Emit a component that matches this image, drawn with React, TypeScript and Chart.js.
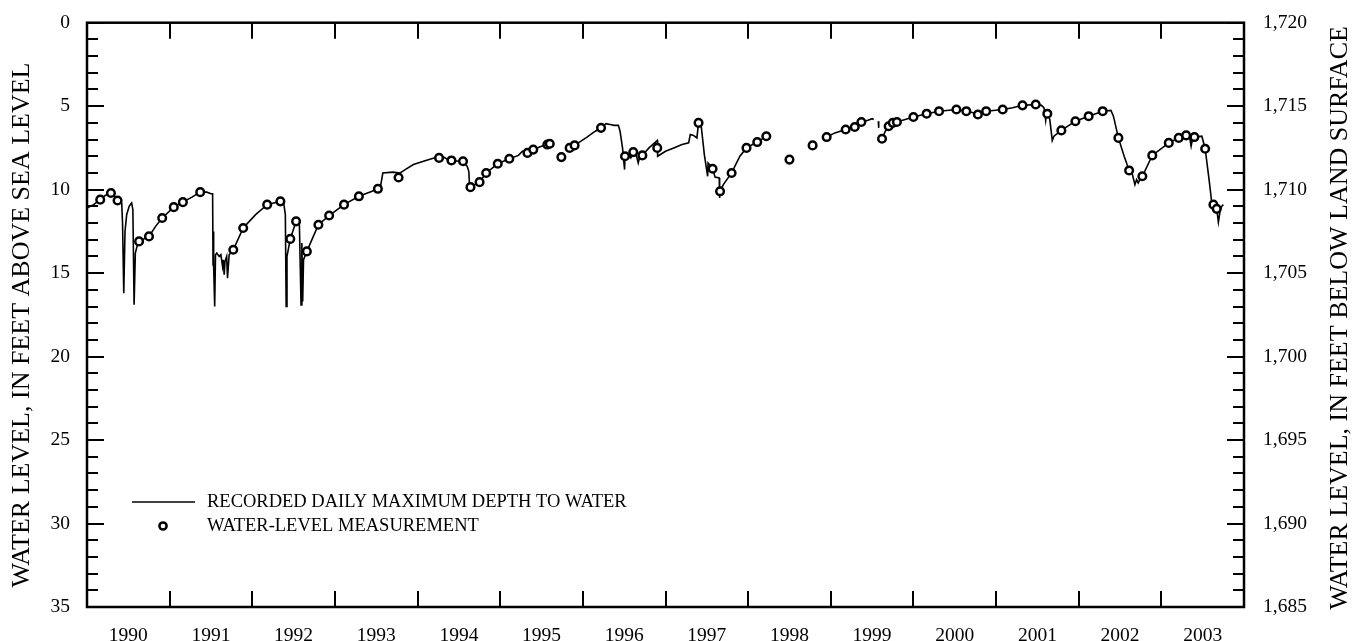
import React, { useEffect, useRef } from "react";
import { Chart, registerables } from "chart.js";

Chart.register(...registerables);

// ---- Data ----
const yearLabels = [1990, 1991, 1992, 1993, 1994, 1995, 1996, 1997, 1998, 1999, 2000, 2001, 2002, 2003];
const leftTickValues = [0, 5, 10, 15, 20, 25, 30, 35];
const rightTickValues = [1685, 1690, 1695, 1700, 1705, 1710, 1715, 1720];

// Recorded daily maximum depth to water (null = gap in record)
const lineYears = [
  1990.0, 1990.08, 1990.16, 1990.22, 1990.29, 1990.33, 1990.37, 1990.42, 1990.43, 1990.445,
  1990.46, 1990.48, 1990.51, 1990.54, 1990.555, 1990.57, 1990.585, 1990.61, 1990.63, 1990.75,
  1990.83, 1990.91, 1991.05, 1991.16, 1991.27, 1991.37, 1991.45, 1991.5, 1991.52, 1991.525,
  1991.53, 1991.535, 1991.545, 1991.555, 1991.57, 1991.6, 1991.62, 1991.64, 1991.65, 1991.66,
  1991.67, 1991.69, 1991.7, 1991.72, 1991.77, 1991.89, 1992.04, 1992.18, 1992.34, 1992.38,
  1992.4, 1992.41, 1992.42, 1992.46, 1992.53, 1992.57, 1992.58, 1992.59, 1992.6, 1992.61,
  1992.62, 1992.66, 1992.8, 1992.93, 1993.11, 1993.29, 1993.45, 1993.55, 1993.58, 1993.7,
  1993.79, 1993.85, 1993.95, 1994.1, 1994.2, 1994.26, 1994.3, 1994.35, 1994.41, 1994.5,
  1994.55, 1994.6, 1994.62, 1994.63, 1994.64, 1994.75, 1994.83, 1994.97, 1995.11, 1995.22,
  1995.27, 1995.33, 1995.4, 1995.5, 1995.57, 1995.61, 1995.7,
  1995.82, 1995.84, 1995.9, 1996.05, 1996.15, 1996.22, 1996.28, 1996.33, 1996.38, 1996.43,
  1996.45, 1996.48, 1996.5, 1996.505, 1996.51, 1996.55, 1996.58, 1996.61, 1996.65, 1996.67,
  1996.69, 1996.72, 1996.8, 1996.9, 1996.905, 1997.0, 1997.1, 1997.2, 1997.28, 1997.3,
  1997.34, 1997.38, 1997.4, 1997.43, 1997.47, 1997.51, 1997.515, 1997.57, 1997.6, 1997.65,
  1997.655, 1997.66, 1997.7, 1997.8, 1997.9, 1997.98, 1998.11, 1998.22, 1998.5,
  1998.95, 1999.05, 1999.18, 1999.29, 1999.37, 1999.45, 1999.5, 1999.52, 1999.55,
  1999.575, 1999.58, 1999.6,
  1999.62, 1999.66, 1999.7, 1999.75, 1999.8, 1999.9, 2000.0, 2000.16, 2000.31, 2000.52,
  2000.64, 2000.78, 2000.88, 2001.08, 2001.2, 2001.32, 2001.48, 2001.55, 2001.58, 2001.6,
  2001.61, 2001.62, 2001.65, 2001.68, 2001.7, 2001.79, 2001.96, 2002.12, 2002.29, 2002.39,
  2002.42, 2002.48, 2002.55, 2002.61, 2002.65, 2002.68, 2002.7, 2002.72, 2002.75, 2002.77,
  2002.89, 2003.09, 2003.21, 2003.3, 2003.34, 2003.36, 2003.38, 2003.4, 2003.49, 2003.53,
  2003.58, 2003.61, 2003.63, 2003.67, 2003.69, 2003.71, 2003.73, 2003.75,
];
const lineDepths = [
  11.1, 10.9, 10.6, 10.35, 10.2, 10.35, 10.65, 10.8, 12.0, 16.2,
  12.5, 11.5, 11.0, 10.8, 11.2, 16.9, 13.8, 13.3, 13.1, 12.8,
  12.2, 11.7, 11.05, 10.75, 10.45, 10.15, 10.15, 10.25, 10.25, 14.5,
  12.5, 14.6, 17.0, 13.9, 13.8, 14.0, 13.9, 14.6, 14.2, 15.1,
  14.3, 14.0, 15.3, 13.9, 13.6, 12.3, 11.5, 10.9, 10.7, 10.8,
  11.5, 17.0, 14.0, 12.95, 11.9, 12.1, 14.5, 16.9, 13.2, 16.7,
  14.2, 13.7, 12.1, 11.55, 10.9, 10.4, 10.1, 9.85, 9.0, 8.95,
  9.0, 8.8, 8.5, 8.25, 8.1, 8.05, 8.0, 8.15, 8.25, 8.3,
  8.35, 8.6, 8.9, 9.9, 9.85, 9.55, 9.0, 8.45, 8.15, 7.95,
  7.7, 7.8, 7.6, 7.4, 7.3, 7.25, null,
  7.45, 7.5, 7.35, 6.85, 6.5, 6.3, 6.05, 6.1, 6.15, 6.15,
  6.5, 7.5, 8.55, 8.8, 8.0, 7.9, 8.1, 7.75, 8.0, 8.4,
  8.0, 7.95, 7.5, 7.05, 8.0, 7.7, 7.5, 7.3, 7.2, 6.7,
  6.75, 6.9, 6.0, 6.1, 7.9, 9.2, 8.4, 8.75, 9.25, 9.3,
  10.5, 10.1, 9.7, 9.0, 8.0, 7.5, 7.15, 6.8, null,
  6.85, 6.6, 6.4, 6.25, 5.95, 5.85, 5.75, 5.8, null,
  5.9, 6.3, null,
  6.95, 6.5, 6.2, 6.0, 5.95, 5.8, 5.65, 5.45, 5.3, 5.2,
  5.3, 5.45, 5.3, 5.2, 5.1, 4.95, 4.9, 4.95, 5.1, 5.85,
  5.4, 5.45, 5.8, 7.05, 6.8, 6.45, 5.9, 5.6, 5.3, 5.25,
  5.6, 6.9, 8.0, 8.85, 9.1, 9.7, 9.4, 9.6, 9.3, 9.2,
  7.95, 7.2, 6.9, 6.75, 6.8, 7.4, 6.9, 6.85, 6.8, 7.55,
  9.5, 10.8, 10.9, 11.15, 11.95, 11.3, 11.0, 10.9,
];

// Water-level measurements
const measYears = [
  1990.16, 1990.29, 1990.37, 1990.63, 1990.75, 1990.91, 1991.05, 1991.16, 1991.37, 1991.77,
  1991.89, 1992.18, 1992.34, 1992.46, 1992.53, 1992.66, 1992.8, 1992.93, 1993.11, 1993.29,
  1993.52, 1993.77, 1994.26, 1994.41, 1994.55, 1994.64, 1994.75, 1994.83, 1994.97, 1995.11,
  1995.33, 1995.4, 1995.57, 1995.6, 1995.74, 1995.84, 1995.9, 1996.22, 1996.51, 1996.61,
  1996.72, 1996.9, 1997.4, 1997.57, 1997.66, 1997.8, 1997.98, 1998.11, 1998.22, 1998.5,
  1998.78, 1998.95, 1999.18, 1999.29, 1999.37, 1999.62, 1999.7, 1999.75, 1999.8, 2000.0,
  2000.16, 2000.31, 2000.52, 2000.64, 2000.78, 2000.88, 2001.08, 2001.32, 2001.48, 2001.62,
  2001.79, 2001.96, 2002.12, 2002.29, 2002.48, 2002.61, 2002.77, 2002.89, 2003.09, 2003.21,
  2003.3, 2003.4, 2003.53, 2003.63, 2003.67,
];
const measDepths = [
  10.6, 10.2, 10.65, 13.1, 12.8, 11.7, 11.05, 10.75, 10.15, 13.6,
  12.3, 10.9, 10.7, 12.95, 11.9, 13.7, 12.1, 11.55, 10.9, 10.4,
  9.95, 9.27, 8.1, 8.25, 8.3, 9.85, 9.55, 9.0, 8.45, 8.15,
  7.8, 7.6, 7.3, 7.25, 8.05, 7.5, 7.35, 6.3, 8.0, 7.75,
  7.95, 7.5, 6.0, 8.75, 10.1, 9.0, 7.5, 7.15, 6.8, 8.2,
  7.35, 6.85, 6.4, 6.25, 5.95, 6.95, 6.2, 6.0, 5.95, 5.65,
  5.45, 5.3, 5.2, 5.3, 5.5, 5.3, 5.2, 4.95, 4.9, 5.45,
  6.45, 5.9, 5.6, 5.3, 6.9, 8.85, 9.2, 7.95, 7.2, 6.9,
  6.75, 6.85, 7.55, 10.9, 11.15,
];

const leftTitle = "WATER LEVEL, IN FEET ABOVE SEA LEVEL";
const rightTitle = "WATER LEVEL, IN FEET BELOW LAND SURFACE";
const legendLineLabel = "RECORDED DAILY MAXIMUM DEPTH TO WATER";
const legendPointLabel = "WATER-LEVEL MEASUREMENT";

const FONT = "'Liberation Serif', 'Times New Roman', serif";

const framePlugin = {
  id: "frame",
  afterDraw(chart: any) {
    const { ctx, chartArea, scales } = chart;
    const { left, right, top, bottom } = chartArea;
    const x = scales.x;
    const yl = scales.y;
    const yr = scales.y2;
    ctx.save();
    ctx.strokeStyle = "#000";
    ctx.lineCap = "butt";
    // tick marks (inward)
    ctx.lineWidth = 2;
    ctx.beginPath();
    for (let yr0 = 1991; yr0 <= 2003; yr0++) {
      const px = Math.round(x.getPixelForValue(yr0));
      ctx.moveTo(px, bottom);
      ctx.lineTo(px, bottom - 16);
      ctx.moveTo(px, top);
      ctx.lineTo(px, top + 16);
    }
    for (let v = 0; v <= 35; v++) {
      const py = Math.round(yl.getPixelForValue(v));
      const len = v % 5 === 0 ? 17 : 11;
      ctx.moveTo(left, py);
      ctx.lineTo(left + len, py);
    }
    for (let v = 1685; v <= 1720; v++) {
      const py = Math.round(yr.getPixelForValue(v));
      const len = v % 5 === 0 ? 17 : 11;
      ctx.moveTo(right, py);
      ctx.lineTo(right - len, py);
    }
    ctx.stroke();
    // frame
    ctx.lineWidth = 2.5;
    ctx.strokeRect(left, top, right - left, bottom - top);

    // axis titles (both read bottom-to-top)
    ctx.fillStyle = "#000";
    ctx.font = `26px ${FONT}`;
    ctx.textAlign = "center";
    ctx.textBaseline = "middle";
    ctx.save();
    ctx.translate(22, 325);
    ctx.rotate(-Math.PI / 2);
    ctx.fillText(leftTitle, 0, 0);
    ctx.restore();
    ctx.save();
    ctx.translate(1340, 318);
    ctx.rotate(-Math.PI / 2);
    ctx.fillText(rightTitle, 0, 0);
    ctx.restore();

    // legend
    const ly1 = 502;
    const ly2 = 526;
    ctx.lineWidth = 1.3;
    ctx.beginPath();
    ctx.moveTo(132, ly1);
    ctx.lineTo(195, ly1);
    ctx.stroke();
    ctx.lineWidth = 2.5;
    ctx.fillStyle = "#fff";
    ctx.beginPath();
    ctx.arc(163, ly2, 3.6, 0, Math.PI * 2);
    ctx.fill();
    ctx.stroke();
    ctx.fillStyle = "#000";
    ctx.font = `18.5px ${FONT}`;
    ctx.textAlign = "left";
    ctx.fillText(legendLineLabel, 207, ly1);
    ctx.fillText(legendPointLabel, 207, ly2);
    ctx.restore();
  },
};

export default function App() {
  const ref = useRef<HTMLCanvasElement>(null);
  useEffect(() => {
    const lineData = lineYears.map((yv, i) => ({ x: yv, y: lineDepths[i] }));
    const measData = measYears.map((yv, i) => ({ x: yv, y: measDepths[i] }));
    const chart = new Chart(ref.current!, {
      type: "line",
      data: {
        datasets: [
          {
            label: legendPointLabel,
            data: measData as any,
            showLine: false,
            pointRadius: 3.8,
            pointBorderWidth: 2.5,
            pointBackgroundColor: "#fff",
            pointBorderColor: "#000",
            borderColor: "#000",
            yAxisID: "y",
            order: 0,
          },
          {
            label: legendLineLabel,
            data: lineData as any,
            borderColor: "#000",
            borderWidth: 1.6,
            pointRadius: 0,
            spanGaps: false,
            tension: 0,
            yAxisID: "y",
            order: 1,
          },
        ],
      },
      options: {
        responsive: false,
        animation: false,
        events: [],
        layout: { padding: { top: 18, left: 0, right: 0, bottom: 0 } },
        plugins: { legend: { display: false }, tooltip: { enabled: false } },
        scales: {
          x: {
            type: "linear",
            min: 1990,
            max: 2004,
            grid: { display: false },
            border: { display: false },
            afterBuildTicks: (scale: any) => {
              scale.ticks = yearLabels.map((y) => ({ value: y + 0.5 }));
            },
            afterFit: (scale: any) => {
              scale.height = 34;
            },
            ticks: {
              autoSkip: false,
              maxRotation: 0,
              padding: 9,
              color: "#000",
              font: { family: FONT, size: 19.5 },
              callback: (v: any) => String(Math.floor(Number(v))),
            },
          },
          y: {
            type: "linear",
            position: "left",
            reverse: true,
            min: 0,
            max: 35,
            grid: { display: false },
            border: { display: false },
            afterBuildTicks: (scale: any) => {
              scale.ticks = leftTickValues.map((v) => ({ value: v }));
            },
            afterFit: (scale: any) => {
              scale.width = 87;
            },
            ticks: {
              padding: 9,
              color: "#000",
              font: { family: FONT, size: 19.5 },
              callback: (v: any) => String(v),
            },
          },
          y2: {
            type: "linear",
            position: "right",
            min: 1685,
            max: 1720,
            grid: { display: false },
            border: { display: false },
            afterBuildTicks: (scale: any) => {
              scale.ticks = rightTickValues.map((v) => ({ value: v }));
            },
            afterFit: (scale: any) => {
              scale.width = 124;
            },
            ticks: {
              padding: 11,
              color: "#000",
              font: { family: FONT, size: 19.5 },
              callback: (v: any) => {
                const n = Number(v);
                return Math.floor(n / 1000) + "," + String(n % 1000).padStart(3, "0");
              },
            },
          },
        },
      },
      plugins: [framePlugin],
    });
    return () => chart.destroy();
  }, []);
  return (
    <div style={{ position: "absolute", left: 0, top: 0, width: 1368, height: 641, background: "#fff" }}>
      <canvas ref={ref} width={1368} height={641} style={{ display: "block" }} />
    </div>
  );
}
